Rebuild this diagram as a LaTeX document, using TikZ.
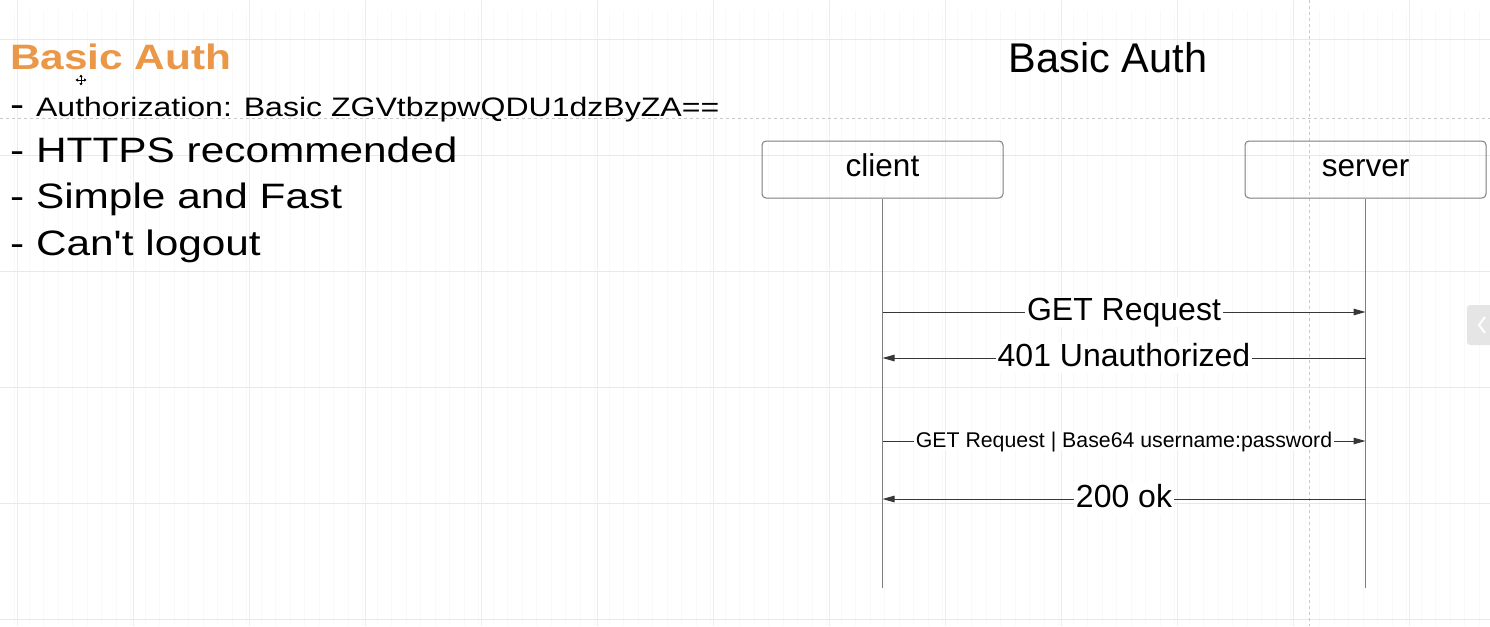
\documentclass[tikz,border=0pt]{standalone}
\usepackage{fontspec}
\setmainfont{Liberation Sans}
\newfontfamily\widefont{Liberation Sans}[FakeStretch=1.2, Ligatures=TeXOff]
\usetikzlibrary{positioning, arrows.meta}
\definecolor{authorange}{RGB}{234,152,72}
\definecolor{lifegray}{RGB}{125,125,125}
\definecolor{msggray}{RGB}{55,55,55}

\begin{document}
\begin{tikzpicture}[
    x=1pt, y=-1pt,
    >={Triangle[length=12pt,width=6.5pt]},
    actor/.style={
      draw=lifegray,
      line width=1pt,
      rounded corners=4pt,
      minimum width=241pt,
      minimum height=57pt,
      text height=23pt,
      text depth=9pt,
      font=\fontsize{31.5}{36}\selectfont
    },
    msg/.style={
      draw=msggray,
      line width=1pt,
      ->
    },
    tag/.style={
      fill=white,
      inner xsep=2pt,
      inner ysep=0pt,
      text height=23pt,
      text depth=7pt,
      font=\fontsize{32}{38}\selectfont
    },
    smalltag/.style={
      tag,
      text height=15.5pt,
      text depth=3pt,
      font=\fontsize{21.3}{26}\selectfont
    },
    item/.style={
      anchor=base west,
      inner sep=0pt,
      font=\widefont\fontsize{35.3}{40}\selectfont
    }
  ]
  \useasboundingbox (0,0) rectangle (1490,626);
  \fill[white] (0,0) rectangle (1490,626);
  \begin{scope}
    \clip (0,0) rectangle (1490,626);
    \draw[black!2.5, step=14.5] (2.5,10) grid (1490,626);
    \foreach \y in {39,155,...,620} \draw[black!9] (0,\y) -- (1490,\y);
    \foreach \x in {17,133,...,1490} \draw[black!7] (\x,0) -- (\x,626);
    \draw[black!22, dashed] (0,118) -- (1490,118);
    \draw[black!22, dashed] (1309,0) -- (1309,626);
    \fill[black!10, rounded corners=3pt] (1467,305) rectangle (1500,345);
    \draw[white, line width=2pt] (1485,317) -- (1479,325) -- (1485,333);
  \end{scope}

  \node[item, font=\widefont\bfseries\fontsize{35.3}{40}\selectfont, text=authorange] (title) at (10,70) {Basic Auth};
  \draw[line width=0.8pt, <->, >={Triangle[length=2.5pt,width=3pt]}] (75.5,80) -- (86.5,80);
  \draw[line width=0.8pt, <->, >={Triangle[length=2.5pt,width=3pt]}] (81,74.5) -- (81,85.5);
  \node[item] (header) at (10,116) {- {\fontsize{26.7}{32}\selectfont Authorization: Basic ZGVtbzpwQDU1dzByZA==}};
  \node[item] (https) at (10,162) {- HTTPS recommended};
  \node[item] (simple) at (10,208) {- Simple and Fast};
  \node[item] (logout) at (10,255) {- Can't logout};

  \node[anchor=base, inner sep=0pt, font=\fontsize{41.5}{48}\selectfont] (diagtitle) at (1108,73) {Basic Auth};
  \node[actor] (client) at (882.5,169.5) {client};
  \node[actor, right=241pt of client] (server) {server};
  \coordinate (clientend) at (client.south |- 0,588);
  \coordinate (serverend) at (server.south |- 0,588);
  \draw[lifegray, line width=1pt] (client) -- (clientend);
  \draw[lifegray, line width=1pt] (server) -- (serverend);

  \foreach \y [count=\i] in {312,358,441,499} {
    \coordinate (c\i) at (client.south |- 0,\y);
    \coordinate (s\i) at (server.south |- 0,\y);
  }
  \draw[msg] (c1) -- node[tag] {GET Request} (s1);
  \draw[msg] (s2) -- node[tag] {401 Unauthorized} (c2);
  \draw[msg] (c3) -- node[smalltag] {GET Request | Base64 username:password} (s3);
  \draw[msg] (s4) -- node[tag] {200 ok} (c4);

\end{tikzpicture}
\end{document}
